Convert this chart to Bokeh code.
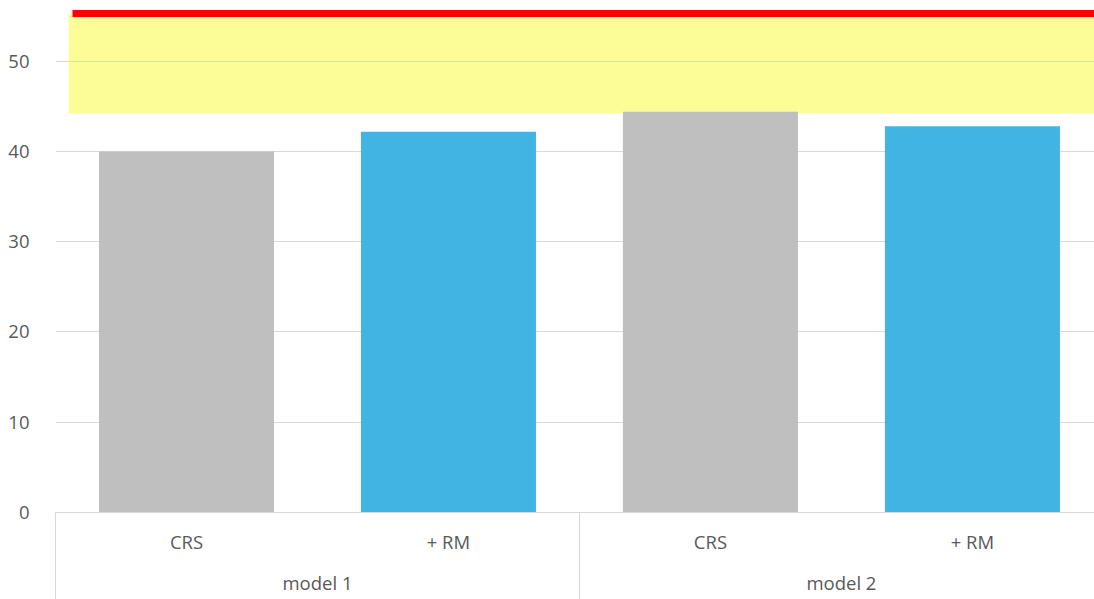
from bokeh.plotting import figure
from bokeh.models import Range1d, FixedTicker, LinearAxis
from bokeh.embed import file_html
from bokeh.resources import INLINE

# ---- data -------------------------------------------------------------
bar_labels = ["CRS", "+ RM", "CRS", "+ RM"]
group_labels = ["model 1", "model 2"]
bar_values = [40.0, 42.2, 44.4, 42.8]
bar_colors = ["#BFBFBF", "#42B4E4", "#BFBFBF", "#42B4E4"]
band_low = 44.25
band_high = 55.3
target_level = 55.3
y_ticks = [0, 10, 20, 30, 40, 50]

# ---- geometry -----------------------------------------------------------
bar_x = [i + 0.5 for i in range(len(bar_values))]
group_x = [1.0, 3.0]
group_edges = [0.0, 2.0, 4.0]
bar_width = 0.668

FONT = "Open Sans"
FONT_SIZE = "18.5px"
TEXT_COLOR = "#595959"
GRID_COLOR = "#D9D9D9"

p = figure(width=1094, height=599, output_backend="svg", toolbar_location=None,
           x_range=Range1d(0, 3.966), y_range=Range1d(0, 56.73),
           min_border_left=55, min_border_right=0, min_border_top=0,
           min_border_bottom=87, x_axis_location=None)
p.outline_line_color = None
p.background_fill_color = "white"
p.border_fill_color = "white"

# shaded target band
p.quad(left=[0.05], right=[4.0], bottom=[band_low], top=[band_high],
       fill_color="#FDFD98", line_color=None, level="image")

# bars
p.vbar(x=bar_x, top=bar_values, width=bar_width, color=bar_colors,
       line_color=None)

# upper limit of the band
p.line(x=[0.065, 4.0], y=[target_level, target_level], line_color="#FF0000",
       line_width=7)

# y axis and grid
yax = p.yaxis[0]
yax.ticker = FixedTicker(ticks=y_ticks)
yax.axis_line_color = None
yax.major_tick_line_color = None
yax.minor_tick_line_color = None
yax.major_label_standoff = 20
yax.major_label_text_font = FONT
yax.major_label_text_font_size = FONT_SIZE
yax.major_label_text_color = TEXT_COLOR
p.ygrid.ticker = FixedTicker(ticks=y_ticks)
p.ygrid.grid_line_color = GRID_COLOR
p.ygrid.grid_line_width = 1
p.xgrid.grid_line_color = None


def label_axis(ticks, labels, standoff):
    ax = LinearAxis(ticker=FixedTicker(ticks=ticks),
                    major_label_overrides={x: lab for x, lab in zip(ticks, labels)})
    ax.axis_line_color = None
    ax.major_tick_line_color = None
    ax.minor_tick_line_color = None
    ax.major_label_standoff = standoff
    ax.major_label_text_font = FONT
    ax.major_label_text_font_size = FONT_SIZE
    ax.major_label_text_color = TEXT_COLOR
    return ax


# inner categories (bar labels); its line is the baseline of the bars
xax = label_axis(bar_x, bar_labels, 10)
xax.axis_line_color = GRID_COLOR
p.add_layout(xax, "below")

# outer categories (model groups)
gax = label_axis(group_x, group_labels, 7)
p.add_layout(gax, "below")

# group separators, drawn as inward minor ticks from the bottom edge
sep = LinearAxis(ticker=FixedTicker(ticks=[], minor_ticks=group_edges))
sep.axis_line_color = None
sep.major_tick_line_color = None
sep.major_label_text_font_size = "0px"
sep.major_label_standoff = 0
sep.minor_tick_line_color = GRID_COLOR
sep.minor_tick_in = 85
sep.minor_tick_out = 2
p.add_layout(sep, "below")

open("out.html", "w").write(file_html(p, INLINE))
